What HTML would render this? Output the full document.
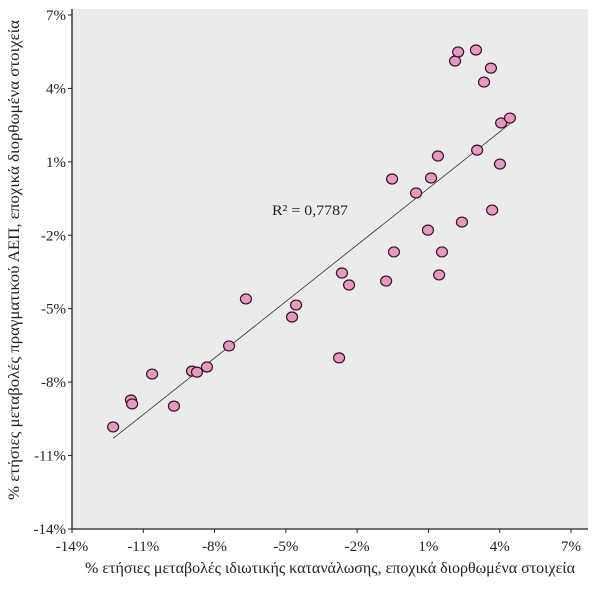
<!DOCTYPE html>
<html><head><meta charset="utf-8"><style>
html,body{margin:0;padding:0;background:#fff}
svg text{font-family:"Liberation Serif","DejaVu Serif",serif;fill:#222}
</style></head><body>
<svg id="chart" width="600" height="585" xmlns="http://www.w3.org/2000/svg">
<rect x="72" y="9" width="516" height="520" fill="#ebebeb"/>
<g id="trend"></g>
<g id="pts"></g>
<g id="axes"></g>
<text x="272" y="215" font-size="15" textLength="76" lengthAdjust="spacingAndGlyphs">R² = 0,7787</text>
<text x="85" y="573" font-size="16" textLength="490" lengthAdjust="spacingAndGlyphs">% ετήσιες μεταβολές ιδιωτικής κατανάλωσης, εποχικά διορθωμένα στοιχεία</text>
<text transform="translate(19,500) rotate(-90)" font-size="16" textLength="480" lengthAdjust="spacingAndGlyphs">% ετήσιες μεταβολές πραγματικού ΑΕΠ, εποχικά διορθωμένα στοιχεία</text>
</svg>
<script>
const xValues=[-12.27,-11.52,-11.47,-10.63,-9.71,-8.95,-8.74,-8.32,-7.39,-6.68,-4.74,-4.57,-2.76,-2.64,-2.34,-0.78,-0.45,-0.53,0.48,0.98,1.11,1.40,1.57,1.45,2.41,2.12,2.25,3.00,3.63,3.34,3.05,3.68,4.01,4.06,4.43];
const yValues=[-9.83,-8.73,-8.89,-7.67,-8.98,-7.55,-7.59,-7.38,-6.52,-4.60,-5.34,-4.85,-7.01,-3.54,-4.03,-3.87,-2.68,0.30,-0.27,-1.79,0.34,1.24,-2.68,-3.62,-1.46,5.12,5.49,5.57,4.83,4.26,1.48,-0.97,0.91,2.59,2.79];
const xTicks=[-14,-11,-8,-5,-2,1,4,7];
const yTicks=[-14,-11,-8,-5,-2,1,4,7];
const NS="http://www.w3.org/2000/svg";
const X0=72,X1=571,Y0=529,Y1=15,MIN=-14,MAX=7;
function sx(v){return X0+(v-MIN)/(MAX-MIN)*(X1-X0);}
function sy(v){return Y0-(v-MIN)/(MAX-MIN)*(Y0-Y1);}
function mk(t,a){const e=document.createElementNS(NS,t);for(const k in a)e.setAttribute(k,a[k]);return e;}
const axes=document.getElementById('axes');
const yl=mk('line',{x1:72,y1:9,x2:72,y2:529,stroke:'#222','stroke-width':1.3});


axes.appendChild(yl);
const xl=mk('line',{x1:72,y1:529,x2:588,y2:529,stroke:'#222','stroke-width':1.3});


axes.appendChild(xl);
xTicks.forEach(v=>{
 const t=mk('line',{x1:sx(v),y1:529,x2:sx(v),y2:533,stroke:'#222'});
 
 
 axes.appendChild(t);
 const l=mk('text',{x:sx(v),y:551,'font-size':15,'text-anchor':'middle'});
 
 
 l.textContent=v+'%';axes.appendChild(l);
});
yTicks.forEach(v=>{
 const t=mk('line',{x1:68,y1:sy(v),x2:72,y2:sy(v),stroke:'#222'});
 
 
 axes.appendChild(t);
 const l=mk('text',{x:66,y:sy(v)+5,'font-size':15,'text-anchor':'end'});
 
 
 l.textContent=v+'%';axes.appendChild(l);
});
const n=xValues.length;let mx=0,my=0;for(let i=0;i<n;i++){mx+=xValues[i];my+=yValues[i];}mx/=n;my/=n;
let sxy=0,sxx=0;for(let i=0;i<n;i++){sxy+=(xValues[i]-mx)*(yValues[i]-my);sxx+=(xValues[i]-mx)**2;}
const b=sxy/sxx,a=my-b*mx;const xa=Math.min(...xValues),xb=Math.max(...xValues);
const tl=mk('line',{x1:sx(xa),y1:sy(a+b*xa),x2:sx(xb),y2:sy(a+b*xb),stroke:'#333','stroke-width':0.8});


document.getElementById('trend').appendChild(tl);
const pts=document.getElementById('pts');
for(let i=0;i<n;i++){
 const p=mk('ellipse',{cx:sx(xValues[i]),cy:sy(yValues[i]),rx:5.5,ry:5,fill:'#e59ac0',stroke:'#3a1025','stroke-width':1.2});
 
 
 pts.appendChild(p);
}
</script>
</body></html>
